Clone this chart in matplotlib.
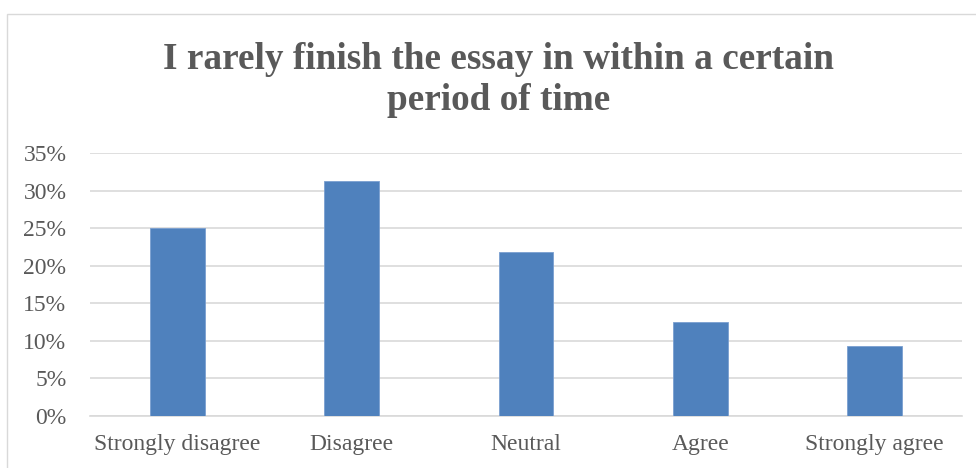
import matplotlib.pyplot as plt
from matplotlib.patches import Rectangle
import matplotlib.ticker as mtick

plt.rcParams['font.family'] = ['Liberation Serif', 'DejaVu Serif']

categories = ['Strongly disagree', 'Disagree', 'Neutral', 'Agree', 'Strongly agree']
values = [0.25, 0.3125, 0.21875, 0.125, 0.09375]

grey = '#595959'
fig = plt.figure(figsize=(9.76, 4.68), dpi=100)

# chart frame (Excel-style border, cut off at right/bottom)
fig.patches.append(Rectangle((7 / 976, -0.1), 1.2, 1 - 14 / 468 + 0.1,
                             transform=fig.transFigure, fill=False,
                             edgecolor='#d9d9d9', linewidth=1))

ax = fig.add_axes([90 / 976, 1 - 416 / 468, 872 / 976, 263 / 468])
x = range(len(categories))
ax.bar(x, values, width=0.314, color='#4f81bd', edgecolor='#7a9fd0', linewidth=0.6, zorder=3)
ax.set_xlim(-0.5, len(categories) - 0.5)
ax.set_ylim(0, 0.35)
ax.yaxis.set_major_locator(mtick.MultipleLocator(0.05))
ax.yaxis.set_major_formatter(mtick.PercentFormatter(1.0, decimals=0))
ax.grid(axis='y', color='#d9d9d9', linewidth=1.2, zorder=0)
for s in ['top', 'right', 'left']:
    ax.spines[s].set_visible(False)
ax.spines['bottom'].set_color('#d9d9d9')
ax.spines['bottom'].set_linewidth(1.2)
ax.set_xticks(list(x))
ax.set_xticklabels(categories)
ax.tick_params(axis='both', length=0, labelsize=17, colors=grey)
ax.tick_params(axis='y', pad=17)
ax.tick_params(axis='x', pad=13)

title_x = 498.5 / 976
fig.text(title_x, 1 - 69 / 468, 'I rarely finish the essay in within a certain',
         ha='center', va='baseline', fontsize=26.8, fontweight='bold', color=grey)
fig.text(title_x, 1 - 110 / 468, 'period of time',
         ha='center', va='baseline', fontsize=26.8, fontweight='bold', color=grey)

fig.savefig('out.png', dpi=100)
